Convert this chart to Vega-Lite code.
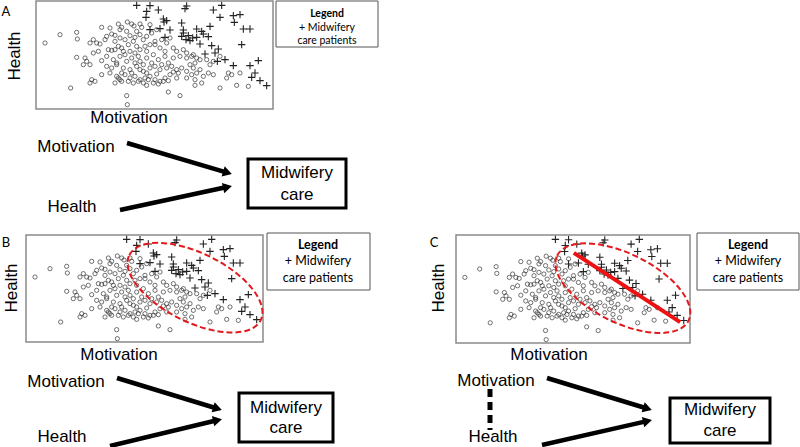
{
"$schema":"https://vega.github.io/schema/vega-lite/v6.json",
"width":800,"height":447,"padding":0,"autosize":{"type":"none"},
"background":"white",
"config":{"view":{"stroke":null}},
"datasets":{
"circ":[
{"x":235,"y":78},{"x":245,"y":88},{"x":275,"y":78},{"x":282,"y":84},{"x":300,"y":78},{"x":305,"y":88},{"x":240,"y":95},{"x":330,"y":80},{"x":262,"y":72},
{"x":110,"y":103},{"x":60,"y":110},{"x":112,"y":123},{"x":185,"y":88},{"x":210,"y":90},{"x":215,"y":108},{"x":200,"y":115},{"x":225,"y":112},{"x":195,"y":125},{"x":160,"y":125},{"x":150,"y":135},{"x":170,"y":135},{"x":260,"y":100},{"x":290,"y":100},{"x":270,"y":113},{"x":300,"y":110},{"x":240,"y":120},{"x":285,"y":118},{"x":320,"y":115},{"x":335,"y":105},{"x":350,"y":95},{"x":310,"y":125},{"x":255,"y":125},{"x":225,"y":130},
{"x":15,"y":135},{"x":180,"y":138},{"x":205,"y":155},{"x":215,"y":157},{"x":225,"y":155},{"x":235,"y":145},{"x":245,"y":150},{"x":265,"y":140},{"x":270,"y":160},{"x":290,"y":145},{"x":300,"y":155},{"x":315,"y":145},{"x":330,"y":140},{"x":345,"y":140},{"x":360,"y":150},{"x":380,"y":135},{"x":400,"y":150},{"x":410,"y":160},{"x":430,"y":155},{"x":345,"y":130},{"x":365,"y":125},{"x":390,"y":120},{"x":280,"y":130},{"x":250,"y":160},{"x":320,"y":160},{"x":375,"y":160},{"x":440,"y":165},{"x":460,"y":170},
{"x":110,"y":178},{"x":135,"y":180},{"x":160,"y":165},{"x":175,"y":160},{"x":185,"y":188},{"x":140,"y":190},{"x":130,"y":200},{"x":150,"y":200},{"x":200,"y":175},{"x":220,"y":185},{"x":240,"y":175},{"x":255,"y":170},{"x":260,"y":190},{"x":275,"y":180},{"x":295,"y":175},{"x":300,"y":190},{"x":320,"y":180},{"x":340,"y":170},{"x":335,"y":195},{"x":355,"y":185},{"x":375,"y":175},{"x":385,"y":195},{"x":400,"y":180},{"x":420,"y":175},{"x":440,"y":180},{"x":455,"y":175},{"x":470,"y":180},{"x":480,"y":185},{"x":450,"y":200},{"x":465,"y":195},{"x":500,"y":185},{"x":520,"y":190},{"x":540,"y":175},{"x":285,"y":165},{"x":310,"y":200},{"x":365,"y":200},{"x":230,"y":195},{"x":285,"y":195},
{"x":200,"y":205},{"x":215,"y":210},{"x":230,"y":200},{"x":250,"y":210},{"x":270,"y":215},{"x":290,"y":205},{"x":300,"y":215},{"x":310,"y":220},{"x":330,"y":210},{"x":345,"y":205},{"x":360,"y":215},{"x":380,"y":210},{"x":395,"y":205},{"x":410,"y":215},{"x":425,"y":210},{"x":440,"y":220},{"x":460,"y":210},{"x":480,"y":215},{"x":510,"y":200},{"x":505,"y":225},{"x":520,"y":230},{"x":245,"y":225},{"x":275,"y":225},{"x":320,"y":225},{"x":350,"y":228},{"x":400,"y":222},{"x":455,"y":230},
{"x":185,"y":230},{"x":210,"y":225},{"x":230,"y":235},{"x":240,"y":245},{"x":255,"y":230},{"x":270,"y":240},{"x":285,"y":235},{"x":300,"y":245},{"x":315,"y":240},{"x":330,"y":235},{"x":345,"y":245},{"x":360,"y":250},{"x":375,"y":240},{"x":390,"y":230},{"x":410,"y":240},{"x":440,"y":240},{"x":465,"y":245},{"x":490,"y":235},{"x":470,"y":225},{"x":415,"y":225},
{"x":155,"y":245},{"x":165,"y":250},{"x":150,"y":255},{"x":225,"y":255},{"x":245,"y":250},{"x":265,"y":250},{"x":280,"y":255},{"x":295,"y":250},{"x":310,"y":255},{"x":325,"y":245},{"x":340,"y":255},{"x":355,"y":258},{"x":370,"y":250},{"x":385,"y":248},{"x":235,"y":240},{"x":320,"y":262},
{"x":92,"y":270},{"x":465,"y":262},{"x":540,"y":270},{"x":560,"y":240},{"x":575,"y":230},{"x":590,"y":262},{"x":625,"y":265},{"x":385,"y":282},{"x":420,"y":293},{"x":260,"y":293},{"x":262,"y":320},{"x":565,"y":225},{"x":600,"y":225},{"x":485,"y":255}
],
"cros":[
{"x":290,"y":22},{"x":330,"y":23},{"x":355,"y":36},{"x":435,"y":32},{"x":440,"y":24},{"x":520,"y":36},{"x":545,"y":22},{"x":540,"y":58},{"x":580,"y":53},{"x":600,"y":50},{"x":583,"y":73},{"x":610,"y":93},{"x":630,"y":93},{"x":320,"y":40},{"x":318,"y":58},{"x":370,"y":63},{"x":372,"y":72},{"x":380,"y":68},{"x":330,"y":95},{"x":360,"y":92},{"x":390,"y":96},{"x":425,"y":75},{"x":430,"y":96},{"x":470,"y":93},{"x":485,"y":100},{"x":510,"y":85},{"x":505,"y":116},{"x":375,"y":118},{"x":425,"y":115},{"x":438,"y":125},{"x":450,"y":128},{"x":458,"y":120},{"x":445,"y":113},{"x":470,"y":118},{"x":490,"y":108},{"x":480,"y":138},{"x":515,"y":143},{"x":495,"y":168},{"x":525,"y":165},{"x":535,"y":153},{"x":555,"y":185},{"x":532,"y":190},{"x":580,"y":203},{"x":630,"y":203},{"x":655,"y":188},{"x":645,"y":225},{"x":635,"y":238},{"x":660,"y":248},{"x":680,"y":263},{"x":605,"y":140},{"x":430,"y":105}
]
},
"resolve":{"scale":{"x":"independent","y":"independent"}},
"layer":[
{
"encoding":{
"x":{"field":"x","type":"quantitative","scale":{"domain":[0,800],"range":[0,800]},"axis":null},
"y":{"field":"y","type":"quantitative","scale":{"domain":[0,447],"range":[0,447]},"axis":null}
},
"layer":[
{"data":{"values":[{"x":36,"x2":273,"y":1,"y2":109},{"x":26,"x2":263,"y":235,"y2":342},{"x":456,"x2":690,"y":235,"y2":343}]},
"mark":{"type":"rect","fillOpacity":0,"stroke":"#8a8a8a","strokeWidth":1.5},
"encoding":{"x2":{"field":"x2"},"y2":{"field":"y2"}}},
{"data":{"values":[{"x":276,"x2":378,"y":1,"y2":47},{"x":267,"x2":370,"y":233,"y2":290},{"x":697,"x2":799,"y":233,"y2":290}]},
"mark":{"type":"rect","fillOpacity":0,"stroke":"#555555","strokeWidth":1},
"encoding":{"x2":{"field":"x2"},"y2":{"field":"y2"}}},
{"data":{"values":[{"x":248,"x2":346,"y":159,"y2":208},{"x":239,"x2":333,"y":393,"y2":442},{"x":670,"x2":770,"y":398,"y2":443}]},
"mark":{"type":"rect","fillOpacity":0,"stroke":"#000000","strokeWidth":3},
"encoding":{"x2":{"field":"x2"},"y2":{"field":"y2"}}},
{"data":{"values":[
{"x":129,"y":118,"t":"Motivation"},{"x":76,"y":147,"t":"Motivation"},{"x":72,"y":207,"t":"Health"},{"x":297,"y":173,"t":"Midwifery"},{"x":297,"y":195,"t":"care"},
{"x":119,"y":355,"t":"Motivation"},{"x":66,"y":382,"t":"Motivation"},{"x":62,"y":437,"t":"Health"},{"x":286,"y":408,"t":"Midwifery"},{"x":286,"y":428,"t":"care"},
{"x":549,"y":355,"t":"Motivation"},{"x":496,"y":381,"t":"Motivation"},{"x":493,"y":437,"t":"Health"},{"x":720,"y":410,"t":"Midwifery"},{"x":720,"y":431,"t":"care"}]},
"mark":{"type":"text","font":"Arial, Liberation Sans, sans-serif","fontSize":17,"baseline":"middle","align":"center","color":"#000000"},
"encoding":{"text":{"field":"t","type":"nominal"}}},
{"data":{"values":[{"x":15,"y":56,"t":"Health"},{"x":12,"y":288,"t":"Health"},{"x":439,"y":288,"t":"Health"}]},
"mark":{"type":"text","font":"Arial, Liberation Sans, sans-serif","fontSize":17,"baseline":"middle","align":"center","angle":270,"color":"#000000"},
"encoding":{"text":{"field":"t","type":"nominal"}}},
{"data":{"values":[{"x":6,"y":12,"t":"A"},{"x":6,"y":243,"t":"B"},{"x":434,"y":243,"t":"C"}]},
"mark":{"type":"text","font":"Lato","fontSize":13,"baseline":"middle","align":"center","color":"#000000"},
"encoding":{"text":{"field":"t","type":"nominal"}}},
{"data":{"values":[{"x":327,"y":14,"t":"Legend"}]},
"mark":{"type":"text","font":"Lato","fontSize":10.5,"fontWeight":"bold","baseline":"middle","align":"center","color":"#000000"},
"encoding":{"text":{"field":"t","type":"nominal"}}},
{"data":{"values":[{"x":327,"y":28,"t":"+ Midwifery"},{"x":327,"y":41,"t":"care patients"}]},
"mark":{"type":"text","font":"Lato","fontSize":10.5,"baseline":"middle","align":"center","color":"#000000"},
"encoding":{"text":{"field":"t","type":"nominal"}}},
{"data":{"values":[{"x":318,"y":245,"t":"Legend"},{"x":748,"y":245,"t":"Legend"}]},
"mark":{"type":"text","font":"Lato","fontSize":12.5,"fontWeight":"bold","baseline":"middle","align":"center","color":"#000000"},
"encoding":{"text":{"field":"t","type":"nominal"}}},
{"data":{"values":[{"x":318,"y":261,"t":"+ Midwifery"},{"x":318,"y":278,"t":"care patients"},{"x":748,"y":261,"t":"+ Midwifery"},{"x":748,"y":278,"t":"care patients"}]},
"mark":{"type":"text","font":"Lato","fontSize":12.5,"baseline":"middle","align":"center","color":"#000000"},
"encoding":{"text":{"field":"t","type":"nominal"}}},
{"data":{"values":[
{"x":127,"y":143,"x2":227,"y2":172.6},{"x":120,"y":210,"x2":227,"y2":187},
{"x":117,"y":378,"x2":217,"y2":408.5},{"x":110,"y":446,"x2":217,"y2":420.2},
{"x":547,"y":378,"x2":647,"y2":408.5},{"x":542,"y":445,"x2":647,"y2":421.1}]},
"mark":{"type":"rule","strokeWidth":4.5,"color":"#000000"},
"encoding":{"x2":{"field":"x2"},"y2":{"field":"y2"}}},
{"data":{"values":[{"x":227.5,"y":172.7},{"x":217.5,"y":408.6},{"x":647.5,"y":408.6}]},
"mark":{"type":"point","shape":"triangle-right","size":110,"filled":true,"color":"#000000","opacity":1,"angle":17},
"encoding":{}},
{"data":{"values":[{"x":227.5,"y":187},{"x":217.5,"y":420.2},{"x":647.5,"y":421.1}]},
"mark":{"type":"point","shape":"triangle-right","size":110,"filled":true,"color":"#000000","opacity":1,"angle":347},
"encoding":{}},
{"data":{"values":[{"x":490,"y":389,"x2":490,"y2":430}]},
"mark":{"type":"rule","strokeWidth":5,"color":"#000000","strokeDash":[8,5]},
"encoding":{"x2":{"field":"x2"},"y2":{"field":"y2"}}}
]
},
{
"encoding":{
"x":{"field":"x","type":"quantitative","scale":{"domain":[-12,699],"range":[36,273]},"axis":null},
"y":{"field":"y","type":"quantitative","scale":{"domain":[9,330],"range":[1,108]},"axis":null}
},
"layer":[
{"data":{"name":"circ"},"mark":{"type":"point","shape":"circle","size":18,"filled":false,"stroke":"#222222","strokeWidth":0.7,"opacity":0.9}},
{"data":{"name":"cros"},"mark":{"type":"point","shape":"M-1,0L1,0M0,-1L0,1","size":55,"filled":false,"stroke":"#222222","strokeWidth":1.1,"opacity":1}}
]
},
{
"encoding":{
"x":{"field":"x","type":"quantitative","scale":{"domain":[-12,699],"range":[26,263]},"axis":null},
"y":{"field":"y","type":"quantitative","scale":{"domain":[9,330],"range":[235,342]},"axis":null}
},
"layer":[
{"data":{"name":"circ"},"mark":{"type":"point","shape":"circle","size":18,"filled":false,"stroke":"#222222","strokeWidth":0.7,"opacity":0.9}},
{"data":{"name":"cros"},"mark":{"type":"point","shape":"M-1,0L1,0M0,-1L0,1","size":55,"filled":false,"stroke":"#222222","strokeWidth":1.1,"opacity":1}},
{"data":{"values":[{"x":495,"y":167}]},"mark":{"type":"point","shape":"M-1,0A1,0.47,0,1,1,1,0A1,0.47,0,1,1,-1,0Z","size":21490,"angle":26.3,"filled":false,"stroke":"#e31a1c","strokeWidth":2,"strokeDash":[6,3],"opacity":1}}
]
},
{
"encoding":{
"x":{"field":"x","type":"quantitative","scale":{"domain":[-12,699],"range":[456,690]},"axis":null},
"y":{"field":"y","type":"quantitative","scale":{"domain":[9,330],"range":[235,343]},"axis":null}
},
"layer":[
{"data":{"name":"circ"},"mark":{"type":"point","shape":"circle","size":18,"filled":false,"stroke":"#222222","strokeWidth":0.7,"opacity":0.9}},
{"data":{"name":"cros"},"mark":{"type":"point","shape":"M-1,0L1,0M0,-1L0,1","size":55,"filled":false,"stroke":"#222222","strokeWidth":1.1,"opacity":1}},
{"data":{"values":[{"x":495,"y":167}]},"mark":{"type":"point","shape":"M-1,0A1,0.47,0,1,1,1,0A1,0.47,0,1,1,-1,0Z","size":21490,"angle":26.3,"filled":false,"stroke":"#e31a1c","strokeWidth":2,"strokeDash":[6,3],"opacity":1}},
{"data":{"values":[{"x":346,"y":62,"x2":669,"y2":268}]},"mark":{"type":"rule","strokeWidth":4,"color":"#ee1111"},"encoding":{"x2":{"field":"x2"},"y2":{"field":"y2"}}}
]
}
]
}
